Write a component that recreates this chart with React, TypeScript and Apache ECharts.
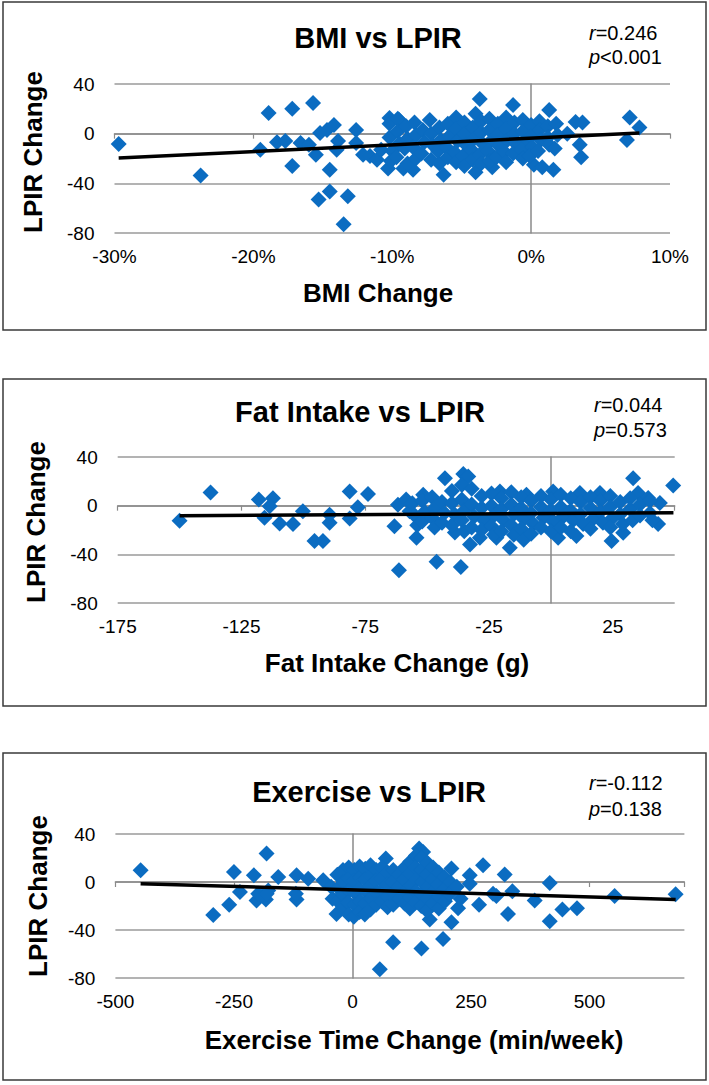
import React, { useEffect, useRef } from "react";
import * as echarts from "echarts";

// ---------- DATA ----------
const yTicks = [-80, -40, 0, 40];

// Panel 1: BMI change (%) vs LPIR change
const bmiData: number[][] = [
  [-29.7, -8.3], [-23.8, -33.6], [-19.5, -13], [-18.9, 16.7], [-17.2, 20], [-15.7, 24.7], [-17.2, -26],
  [-18.3, -7], [-17.7, -6], [-16.6, -7.5], [-16, -9], [-15.5, -17], [-15.2, 0.5], [-14.7, 3], [-14.2, 7],
  [-14.5, -29], [-14.5, -46.5], [-15.3, -53], [-13.2, -50.5], [-13.5, -73], [-14, -13], [-13.9, -6],
  [-12.6, 3], [-12.6, -7.5], [-12.1, -17], [-11.6, -18], [-11.1, -21], [-10.8, -13], [-10.3, -28],
  [-10.2, 12.6], [-9.5, 11], [-9.2, -28], [-8.5, -29], [-7.3, 11], [-6.3, -33], [-4, -31], [-3.7, 28],
  [-4, 16], [-2.8, -27], [-1.3, 23], [1.3, 19], [0.2, -25], [0.8, -27], [1.6, -29], [2.6, 0], [3.2, 9.3],
  [3.7, 9], [3.5, -9], [3.6, -19], [7.1, 13], [7.8, 5], [6.9, -5],
  [-10.2, 8], [-10.2, -3], [-10.0, -14], [-10.1, -22],
  [-9.6, 12], [-9.6, 2], [-9.5, -8], [-9.7, -19],
  [-9.0, 6], [-8.9, -4], [-9.1, -12], [-8.9, -24],
  [-8.4, 9], [-8.3, -1], [-8.5, -11], [-8.3, -20],
  [-7.8, 3], [-7.7, -7], [-7.9, -16],
  [-7.2, 0], [-7.1, -9], [-7.2, -21],
  [-6.6, 5], [-6.5, -5], [-6.7, -14], [-6.6, -24],
  [-6.0, 8], [-5.9, -2], [-6.1, -11], [-6.0, -19],
  [-5.4, 13], [-5.4, 4], [-5.3, -6], [-5.5, -15], [-5.4, -23],
  [-4.8, 9], [-4.8, 0], [-4.7, -9], [-4.9, -18], [-4.8, -26],
  [-4.2, 5], [-4.1, -4], [-4.3, -13], [-4.2, -21],
  [-3.6, 10], [-3.6, 1], [-3.5, -8], [-3.7, -17], [-3.6, -24],
  [-3.0, 12], [-3.0, 3], [-2.9, -6], [-3.1, -14], [-3.0, -22],
  [-2.4, 8], [-2.4, -1], [-2.3, -10], [-2.5, -19],
  [-1.8, 13], [-1.8, 4], [-1.7, -5], [-1.9, -15], [-1.8, -23],
  [-1.2, 9], [-1.2, 0], [-1.1, -8], [-1.3, -16],
  [-0.6, 11], [-0.6, 2], [-0.5, -7], [-0.7, -13], [-0.6, -20],
  [0.0, 7], [0.0, -2], [0.1, -11], [-0.1, -18],
  [0.6, 10], [0.6, 3], [0.7, -5], [0.5, -14],
  [1.2, 6], [1.2, -3], [1.3, -9],
  [1.8, 8], [1.9, -1], [1.7, -12],
];
const bmiTrend: number[][] = [[-29.7, -19.6], [7.8, 0.5]];

// Panel 2: Fat intake change (g) vs LPIR change
const fatData: number[][] = [
  [-150, -12.3], [-137.5, 10.9], [-118, 5], [-112.3, 6], [-113.6, -0.5], [-115.7, -10], [-109.6, -14.7],
  [-104.2, -15], [-100.2, -4.6], [-95.5, -29], [-92.1, -29], [-89.4, -7.4], [-89.4, -14], [-81.3, 11.7],
  [-81.3, -10.6], [-78, -1.4], [-73.9, 9.5], [-63.2, -17], [-61.4, -53], [-54.3, -26.4], [-46.2, -46],
  [-36.4, -50.4], [-35.4, 26], [-33.4, 24], [-42.8, 22.6], [-51.6, 9], [-32.7, -32], [-28.7, -26.4],
  [-38.8, -22], [-16.6, -34.6], [-20.6, 11.7], [-9.9, 9], [0.9, 11.7], [11.7, 10.4], [19.8, 10.4],
  [33.2, 22.6], [49.4, 16.6], [35.2, 10.4], [39.3, 6.3], [44, 2.2], [43.3, -15], [29.2, -22.3],
  [24.5, -29], [2.9, -26.4], [10.3, -25], [-22, -26.4], [-61.8, 0.8], [-58.5, 5], [-57.1, -4.6],
  [-56, 2], [-55, -8], [-54, -16],
  [-52, 4], [-51, -5], [-52, -13],
  [-48, 7], [-47, -2], [-48, -10], [-47, -18],
  [-44, 3], [-43, -6], [-44, -14],
  [-40, 12], [-40, 2], [-39, -7], [-40, -16],
  [-36, 17], [-36, 5], [-35, -4], [-36, -12], [-35, -21],
  [-32, 14], [-32, 1], [-31, -9], [-32, -18],
  [-28, 8], [-28, -2], [-27, -12], [-28, -20],
  [-24, 10], [-24, 0], [-23, -8], [-24, -17], [-23, -24],
  [-20, 6], [-20, -3], [-19, -12], [-20, -21],
  [-16, 11], [-16, 1], [-15, -7], [-16, -16], [-15, -24],
  [-12, 7], [-12, -2], [-11, -11], [-12, -19], [-11, -28],
  [-8, 4], [-8, -6], [-7, -15], [-8, -23],
  [-4, 8], [-4, -1], [-3, -10], [-4, -18],
  [0, 5], [0, -4], [1, -13], [0, -21],
  [4, 9], [4, -1], [5, -9], [4, -18],
  [8, 6], [8, -4], [9, -12], [8, -21],
  [12, 3], [12, -7], [13, -15],
  [16, 7], [16, -2], [17, -11], [16, -19],
  [20, 4], [20, -5], [21, -14],
  [24, 8], [24, -1], [25, -10], [24, -18],
  [28, 3], [28, -7], [29, -15],
  [32, 6], [32, -3], [33, -12],
  [36, 1], [36, -8],
  [40, 4], [40, -6], [41, -12],
];
const fatTrend: number[][] = [[-150, -8.2], [49.5, -5.8]];

// Panel 3: Exercise time change (min/week) vs LPIR change
const exData: number[][] = [
  [-446.8, 9.8], [-293.6, -27.4], [-260, -19], [-250, 8.4], [-237.4, -8.4], [-207.9, 5.6], [-202.3, -15.4],
  [-181.2, 23.8], [-182.6, -14.5], [-177.7, -7], [-156.6, 4.2], [-198.8, -9.8], [-181, -9.8], [-118, 5.6],
  [-118, -14.5], [-119.4, -9.8], [-93.4, 2.8], [-61.8, 1.4], [-33.7, -26.6], [85.7, -50.3], [57.6, -72.7],
  [70.3, 19.6], [145.4, -55.4], [191, -47.6], [163, -31.3], [208.7, -33.6], [222.7, -21.8], [267, -19],
  [275.4, 14], [321, 6.2], [303.5, -11.7], [328, -26.6], [337.2, -7.8], [384.3, -15.4], [416, -0.8],
  [416, -32.7], [442.6, -23], [473.5, -21.8], [552.9, -11.7], [681.5, -10.3], [247.3, 5.6], [247.3, -1.4],
  [208.7, 11.2], [140.5, 28], [149, 25], [296.5, -9.8],
  [-45, -4], [-42, -14],
  [-32, 6], [-30, -5], [-31, -16],
  [-20, 10], [-19, 0], [-21, -10], [-20, -20],
  [-8, 12], [-8, 3], [-7, -7], [-9, -17], [-8, -27],
  [4, 10], [3, 1], [5, -9], [4, -19], [3, -29],
  [15, 13], [16, 4], [14, -6], [16, -16], [15, -25],
  [27, 11], [26, 2], [28, -8], [27, -18], [26, -27],
  [38, 14], [39, 5], [37, -4], [39, -14], [38, -23],
  [50, 10], [49, 1], [51, -9], [50, -19],
  [62, 12], [61, 3], [63, -6], [62, -16],
  [74, 8], [73, -2], [75, -12], [74, -21],
  [86, 10], [85, 0], [87, -9], [86, -19],
  [98, 6], [97, -4], [99, -14],
  [110, 12], [109, 2], [111, -8], [110, -18],
  [122, 17], [121, 7], [123, -3], [122, -13], [121, -22],
  [134, 22], [133, 12], [135, 2], [134, -8], [133, -17],
  [146, 20], [145, 10], [147, 0], [146, -10], [145, -20],
  [158, 16], [157, 6], [159, -4], [158, -14], [157, -24],
  [170, 12], [169, 2], [171, -8], [170, -18],
  [182, 8], [181, -2], [183, -12], [182, -22],
  [194, 4], [193, -6], [195, -16],
  [206, 0], [205, -10],
  [220, -4], [228, -14],
];
const exTrend: number[][] = [[-446.8, -1.4], [681.5, -14.5]];

const titles = ["BMI vs LPIR", "Fat Intake vs LPIR", "Exercise vs LPIR"];
const xTitles = ["BMI Change", "Fat Intake Change (g)", "Exercise Time Change (min/week)"];
const yTitle = "LPIR Change";
const rTexts = ["0.246", "0.044", "-0.112"];
const pTexts = ["<0.001", "=0.573", "=0.138"];
const xRanges = [
  { min: -30, max: 10, interval: 10, suffix: "%" },
  { min: -175, max: 50, interval: 50, suffix: "" },
  { min: -500, max: 700, interval: 250, suffix: "" },
];
const datasets = [bmiData, fatData, exData];
const trends = [bmiTrend, fatTrend, exTrend];

// ---------- LAYOUT ----------
const layout = [
  { left: 114.5, top: 84, width: 555.5, height: 149, box: [3, 2, 703, 328], title: [378, 38], annot: [589, 33, 57], xTitle: [378, 293], yTitle: [33, 152] },
  { left: 117.7, top: 457, width: 557, height: 146, box: [3, 379, 703, 327], title: [360, 412], annot: [594, 405, 430], xTitle: [397, 663], yTitle: [36, 522] },
  { left: 115.4, top: 834, width: 569, height: 144, box: [3, 753, 703, 327], title: [369, 792], annot: [589, 783, 809], xTitle: [414, 1040], yTitle: [38, 896] },
];

const FONT = '"Liberation Sans", Arial, sans-serif';
const BLUE = "#0b6cc1";
const GRID = "#9a9a9a";

function buildOption() {
  const grid: any[] = [];
  const xAxis: any[] = [];
  const yAxis: any[] = [];
  const series: any[] = [];
  const graphic: any[] = [];

  layout.forEach((L, g) => {
    const xr = xRanges[g];
    grid.push({ left: L.left, top: L.top, width: L.width, height: L.height, containLabel: false });
    xAxis.push({
      gridIndex: g, type: "value", min: xr.min, max: xr.max, interval: xr.interval, position: "bottom",
      axisLine: { show: false, onZero: false }, axisTick: { show: false },
      axisLabel: { color: "#000", fontSize: 19, fontFamily: FONT, margin: 14, showMaxLabel: g === 0,
        formatter: (v: number) => `${v}${xr.suffix}` },
      splitLine: { show: false },
    });
    xAxis.push({
      gridIndex: g, type: "value", min: xr.min, max: xr.max, interval: xr.interval, position: "bottom",
      axisLine: { show: true, onZero: true, lineStyle: { color: "#8a8a8a", width: 1.5 } },
      axisTick: { show: true, length: 5, lineStyle: { color: "#8a8a8a", width: 1.2 } },
      axisLabel: { show: false }, splitLine: { show: false },
    });
    yAxis.push({
      gridIndex: g, type: "value", min: yTicks[0], max: yTicks[yTicks.length - 1], interval: 40, position: "left",
      axisLine: { show: false, onZero: false }, axisTick: { show: false },
      axisLabel: { color: "#000", fontSize: 19, fontFamily: FONT, margin: 20 },
      splitLine: { show: true, lineStyle: { color: GRID, width: 1.5 } },
    });
    yAxis.push({
      gridIndex: g, type: "value", min: yTicks[0], max: yTicks[yTicks.length - 1], interval: 40, position: "left",
      axisLine: { show: true, onZero: true, lineStyle: { color: "#8a8a8a", width: 1.5 } },
      axisTick: { show: false }, axisLabel: { show: false }, splitLine: { show: false },
    });

    series.push({
      type: "scatter", xAxisIndex: 2 * g, yAxisIndex: 2 * g, data: datasets[g],
      symbol: "diamond", symbolSize: 16, itemStyle: { color: BLUE, opacity: 1 }, z: 3,
    });
    series.push({
      type: "line", xAxisIndex: 2 * g, yAxisIndex: 2 * g, data: trends[g],
      symbol: "none", lineStyle: { color: "#000", width: 3.5 }, z: 4,
    });

    const [bx, by, bw, bh] = L.box;
    graphic.push({ type: "rect", shape: { x: bx, y: by, width: bw, height: bh },
      style: { fill: "none", stroke: "#3a3a3a", lineWidth: 1.5 }, z: 0 });
    graphic.push({ type: "text", x: L.title[0], y: L.title[1],
      style: { text: titles[g], fill: "#000", font: `bold 29px ${FONT}`, align: "center", verticalAlign: "middle", textAlign: "center", textVerticalAlign: "middle" } });
    graphic.push({ type: "text", x: L.xTitle[0], y: L.xTitle[1],
      style: { text: xTitles[g], fill: "#000", font: `bold 26px ${FONT}`, align: "center", verticalAlign: "middle", textAlign: "center", textVerticalAlign: "middle" } });
    graphic.push({ type: "text", x: L.yTitle[0], y: L.yTitle[1], rotation: Math.PI / 2,
      style: { text: yTitle, fill: "#000", font: `bold 26px ${FONT}`, align: "center", verticalAlign: "middle", textAlign: "center", textVerticalAlign: "middle" } });
    graphic.push({ type: "text", x: L.annot[0], y: L.annot[1],
      style: { text: `{i|r}=${rTexts[g]}`, fill: "#000", font: `20px ${FONT}`, verticalAlign: "middle", textVerticalAlign: "middle",
        rich: { i: { fontStyle: "italic", fontSize: 20, fontFamily: FONT, fill: "#000" } } } });
    graphic.push({ type: "text", x: L.annot[0], y: L.annot[2],
      style: { text: `{i|p}${pTexts[g]}`, fill: "#000", font: `20px ${FONT}`, verticalAlign: "middle", textVerticalAlign: "middle",
        rich: { i: { fontStyle: "italic", fontSize: 20, fontFamily: FONT, fill: "#000" } } } });
  });

  return { animation: false, backgroundColor: "#fff", grid, xAxis, yAxis, series, graphic };
}

export default function App() {
  const ref = useRef<HTMLDivElement>(null);
  useEffect(() => {
    document.body.style.margin = "0";
    if (!ref.current) return;
    const chart = echarts.init(ref.current, undefined, { renderer: "svg" });
    chart.setOption(buildOption() as any);
    return () => chart.dispose();
  }, []);
  return <div ref={ref} style={{ width: 709, height: 1085 }} />;
}
